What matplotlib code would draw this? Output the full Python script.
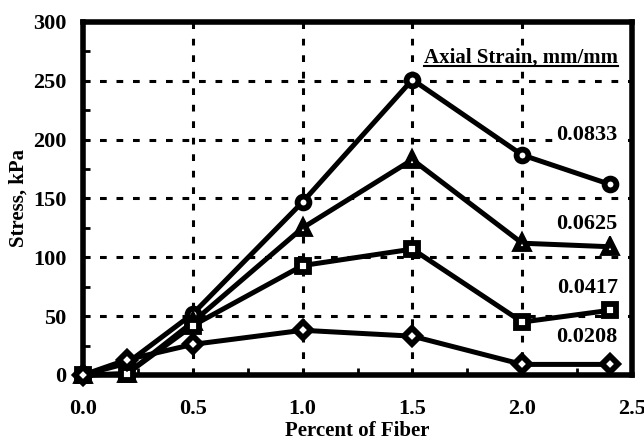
import matplotlib
matplotlib.use("Agg")
import matplotlib.pyplot as plt
from matplotlib.ticker import MultipleLocator
from matplotlib.lines import Line2D

plt.rcParams['font.family'] = ['Liberation Serif', 'DejaVu Serif']
plt.rcParams['font.weight'] = 'bold'

fiber = [0.0, 0.2, 0.5, 1.0, 1.5, 2.0, 2.4]
strain_labels = ["0.0833", "0.0625", "0.0417", "0.0208"]
s0833 = [0, 10, 52, 147, 251, 187, 162]
s0625 = [0, 1, 45, 125, 183, 112, 109]
s0417 = [0, 1, 42, 93, 107, 45, 55]
s0208 = [0, 13, 26, 38, 33, 9, 9]
series = [s0833, s0625, s0417, s0208]
markers = ['o', '^', 's', 'D']
label_y = [204, 128, 74, 32]
xticks = [0.0, 0.5, 1.0, 1.5, 2.0, 2.5]
yticks = [0, 50, 100, 150, 200, 250, 300]

fig = plt.figure(figsize=(6.44, 4.43), dpi=100)
ax = fig.add_axes([83/644, 1-375/443, 549/644, (375-22)/443])

for vals, m in zip(series, markers):
    ax.plot(fiber, vals, color='black', lw=3.6, marker=m, ms=8.5,
            mfc='white', mec='black', mew=4.2, zorder=3, clip_on=False)

ax.set_xlim(0, 2.5)
ax.set_ylim(0, 300)
ax.set_xticks(xticks)
ax.set_xticklabels([f"{t:.1f}" for t in xticks])
ax.set_yticks(yticks)
ax.xaxis.set_minor_locator(MultipleLocator(0.25))
ax.yaxis.set_minor_locator(MultipleLocator(25))
ax.tick_params(which='both', direction='in', width=2, labelsize=16, color='black')
ax.tick_params(which='major', length=5)
ax.tick_params(which='minor', length=5)
for lbl in ax.get_xticklabels() + ax.get_yticklabels():
    lbl.set_fontweight('bold')
ax.tick_params(axis='x', pad=17)
ax.tick_params(axis='y', pad=12)

ax.grid(True, which='major', color='black', linestyle=(0, (2.2, 3.2)), lw=2.2)
for sp in ax.spines.values():
    sp.set_linewidth(4)

ax.set_xlabel("Percent of Fiber", fontsize=15, fontweight='bold', labelpad=2)
ax.set_ylabel("Stress, kPa", fontsize=15, fontweight='bold', labelpad=3)

for lab, yv in zip(strain_labels, label_y):
    ax.text(2.435, yv, lab, ha='right', va='center', fontsize=16,
            fontweight='bold', zorder=5,
            bbox=dict(facecolor='white', edgecolor='none', pad=1))

t = ax.text(2.436, 270, "Axial Strain, mm/mm", ha='right', va='center',
            fontsize=15, fontweight='bold', zorder=5,
            bbox=dict(facecolor='white', edgecolor='none', pad=1))

fig.canvas.draw()
bb = t.get_window_extent(renderer=fig.canvas.get_renderer())
inv = fig.transFigure.inverted()
(x0, y0), (x1, y1) = inv.transform([(bb.x0, bb.y0), (bb.x1, bb.y1)])
fig.add_artist(Line2D([x0, x1], [y0 + 0.002, y0 + 0.002], color='black', lw=1.5, transform=fig.transFigure, zorder=6))

fig.savefig("out.png", dpi=100)
